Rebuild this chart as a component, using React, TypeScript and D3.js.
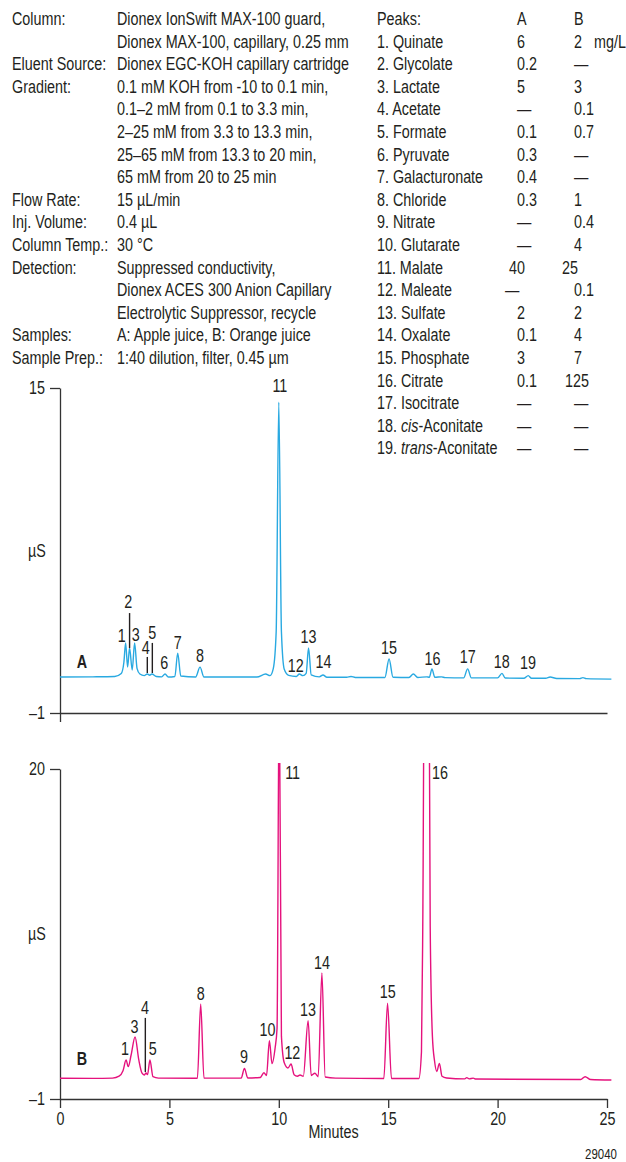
import React, { useRef, useEffect } from 'react';
import * as d3 from 'd3';

// Chromatographic conditions (left text block)
const conditionLabels = [
  'Column:', '', 'Eluent Source:', 'Gradient:', '', '', '', '',
  'Flow Rate:', 'Inj. Volume:', 'Column Temp.:', 'Detection:', '', '',
  'Samples:', 'Sample Prep.:',
];
const conditionValues = [
  'Dionex IonSwift MAX-100 guard,',
  'Dionex MAX-100, capillary, 0.25 mm',
  'Dionex EGC-KOH capillary cartridge',
  '0.1 mM KOH from -10 to 0.1 min,',
  '0.1–2 mM from 0.1 to 3.3 min,',
  '2–25 mM from 3.3 to 13.3 min,',
  '25–65 mM from 13.3 to 20 min,',
  '65 mM from 20 to 25 min',
  '15 µL/min',
  '0.4 µL',
  '30 °C',
  'Suppressed conductivity,',
  'Dionex ACES 300 Anion Capillary',
  'Electrolytic Suppressor, recycle',
  'A: Apple juice, B: Orange juice',
  '1:40 dilution, filter, 0.45 µm',
];

// Peak table (mg/L)
const peakNames = [
  'Quinate', 'Glycolate', 'Lactate', 'Acetate', 'Formate', 'Pyruvate',
  'Galacturonate', 'Chloride', 'Nitrate', 'Glutarate', 'Malate', 'Maleate',
  'Sulfate', 'Oxalate', 'Phosphate', 'Citrate', 'Isocitrate',
  'cis-Aconitate', 'trans-Aconitate',
];
const concA = ['6', '0.2', '5', '—', '0.1', '0.3', '0.4', '0.3', '—', '—', '40', '—', '2', '0.1', '3', '0.1', '—', '—', '—'];
const concB = ['2', '—', '3', '0.1', '0.7', '—', '—', '1', '0.4', '4', '25', '0.1', '2', '4', '7', '125', '—', '—', '—'];

// Trace A, apple juice: retention time (min) and conductivity (µS)
const timeA = [
  0, 1.5, 2.5, 2.8, 2.92, 3.0, 3.09, 3.18, 3.3, 3.41, 3.52, 3.65, 3.85, 3.99, 4.1, 4.2,
  4.4, 4.65, 4.8, 4.95, 5.25, 5.38, 5.52, 6.2, 6.4, 6.58, 9.0, 9.4, 9.6, 9.75, 9.88,
  10.0, 10.12, 10.25, 10.45, 10.8, 10.94, 11.1, 11.25, 11.36, 11.48, 11.85, 12.02,
  12.2, 13.1, 13.3, 13.5, 14.85, 15.04, 15.22, 15.95, 16.15, 16.35, 16.76, 16.88,
  17.0, 17.13, 17.44, 17.6, 18.45, 18.63, 18.8, 20.0, 20.2, 20.35, 21.2, 21.4, 21.55,
  22.2, 22.4, 22.7, 23.75, 23.9, 24.05, 25.2,
];
const signalA = [
  0.77, 0.78, 0.8, 0.95, 1.5, 2.45, 1.26, 2.2, 1.12, 2.45, 1.2, 0.92, 0.84, 0.92, 0.86, 0.92,
  0.8, 0.78, 0.92, 0.77, 0.8, 1.95, 0.82, 0.77, 1.26, 0.77, 0.77, 0.92, 0.84, 1.2, 3.0,
  14.3, 3.0, 1.15, 0.85, 0.8, 0.92, 0.84, 0.95, 2.2, 0.88, 0.78, 0.87,
  0.76, 0.76, 0.8, 0.75, 0.75, 1.66, 0.76, 0.75, 0.92, 0.75, 0.78, 0.76,
  1.17, 0.76, 0.78, 0.74, 0.73, 1.17, 0.73, 0.73, 0.95, 0.72, 0.71, 0.84, 0.71,
  0.71, 0.77, 0.7, 0.69, 0.74, 0.69, 0.67,
];

// Trace B, orange juice
const timeB = [
  0, 1.5, 2.4, 2.7, 2.88, 3.02, 3.12, 3.25, 3.43, 3.6, 3.75, 3.85, 3.93, 4.0, 4.11, 4.25,
  4.5, 6.28, 6.43, 6.58, 8.28, 8.43, 8.58, 9.15, 9.32, 9.44, 9.57, 9.69, 9.83, 9.92,
  10.02, 10.12, 10.25, 10.42, 10.56, 10.7, 10.85, 10.97, 11.12, 11.34, 11.48, 11.65,
  11.8, 11.97, 12.12, 12.6, 14.8, 14.97, 15.15, 16.4, 16.52, 16.58, 16.75, 16.92,
  17.02, 17.12, 17.22, 17.34, 17.46, 17.67, 18.5, 18.59, 18.7, 18.89, 19.0, 23.8,
  24.0, 24.25, 25.2,
];
const signalB = [
  0.32, 0.31, 0.33, 0.45, 0.8, 1.48, 1.06, 1.8, 2.95, 1.5, 0.64, 0.53, 0.65, 0.55, 1.48, 0.42,
  0.33, 0.32, 5.05, 0.33, 0.33, 0.95, 0.34, 0.37, 0.67, 0.5, 2.71, 1.25, 2.23, 3.5,
  26, 3.0, 1.3, 0.97, 1.23, 0.55, 0.45, 0.53, 0.45, 3.98, 0.5, 0.64,
  0.42, 7.02, 0.4, 0.33, 0.3, 5.09, 0.3, 0.3, 2, 10, 60, 10,
  3, 1.4, 0.75, 1.27, 0.45, 0.34, 0.28, 0.36, 0.28, 0.33, 0.27, 0.24,
  0.42, 0.24, 0.21,
];

// Peak numbers: [label, time, signal at text baseline]
const labelsA = [
  ['1', 2.82, 2.51], ['2', 3.12, 4.15], ['3', 3.46, 2.55], ['4', 3.92, 1.9],
  ['5', 4.22, 2.63], ['6', 4.77, 1.15], ['7', 5.38, 2.14], ['8', 6.4, 1.53],
  ['11', 10.05, 14.8], ['12', 10.77, 1.03], ['13', 11.36, 2.43], ['14', 12.04, 1.2],
  ['15', 15.04, 1.9], ['16', 17.02, 1.36], ['17', 18.63, 1.48], ['18', 20.19, 1.23],
  ['19', 21.39, 1.15],
];
const labelsB = [
  ['1', 2.97, 1.8], ['3', 3.41, 3.18], ['4', 3.88, 4.39], ['5', 4.24, 1.8],
  ['8', 6.43, 5.3], ['9', 8.41, 1.31], ['10', 9.48, 3.01], ['11', 10.63, 19.35],
  ['12', 10.62, 1.53], ['13', 11.33, 4.28], ['14', 11.97, 7.28], ['15', 14.98, 5.41],
  ['16', 17.37, 19.35],
];
// Leader lines: [time, top signal, bottom signal]
const leadersA = [[3.18, 3.92, 2.2], [3.99, 1.76, 0.97], [4.22, 2.45, 0.97]];
const leadersB = [[3.9, 4.16, 0.72]];

const xTicks = [0, 5, 10, 15, 20, 25];
const yTicksA = [-1, 15];
const yTicksB = [-1, 20];

// Liberation Sans squeezed horizontally stands in for the condensed face
const FONT = "'Liberation Sans', Arial, sans-serif";
const SQUEEZE = 0.82;
const INK = '#231f20';
const AXIS = '#333';

const Chromatogram = () => {
  const svgRef = useRef(null);

  useEffect(() => {
    document.body.style.margin = '0';
    const svg = d3.select(svgRef.current);
    svg.selectAll('*').remove();

    const fs = 17.5;
    const rowY = (i) => 25 + 22.6 * i;

    // condensed text at (x, y)
    const label = (parent, x, y, txt, anchor = 'start') =>
      parent.append('text')
        .attr('transform', `translate(${x},${y}) scale(${SQUEEZE},1)`)
        .attr('text-anchor', anchor)
        .text(txt);

    const squeezeTicks = (g) => {
      g.selectAll('text').each(function () {
        const t = d3.select(this);
        const tx = +t.attr('x') || 0;
        const ty = +t.attr('y') || 0;
        t.attr('transform', `translate(${tx},${ty}) scale(${SQUEEZE},1)`).attr('x', 0).attr('y', 0);
      });
    };

    // Conditions text
    const cond = svg.append('g').attr('font-family', FONT).attr('font-size', fs).attr('fill', INK);
    conditionLabels.forEach((t, i) => {
      if (t) label(cond, 12, rowY(i), t);
    });
    conditionValues.forEach((t, i) => label(cond, 117, rowY(i), t));

    // Peak table
    const tbl = svg.append('g').attr('font-family', FONT).attr('font-size', fs).attr('fill', INK);
    label(tbl, 377, rowY(0), 'Peaks:');
    label(tbl, 517, rowY(0), 'A');
    label(tbl, 574, rowY(0), 'B');
    const nudge = { Malate: [-8, -12], Maleate: [-12, 0], Citrate: [0, -9] };
    peakNames.forEach((name, i) => {
      const y = rowY(i + 1);
      const m = name.match(/^(cis|trans)(-.*)$/);
      if (m) {
        const t = label(tbl, 377, y, '');
        t.append('tspan').text(`${i + 1}. `);
        t.append('tspan').attr('font-style', 'italic').text(m[1]);
        t.append('tspan').text(m[2]);
      } else {
        label(tbl, 377, y, `${i + 1}. ${name}`);
      }
      const [da, db] = nudge[name] || [0, 0];
      label(tbl, 517 + da, y, concA[i]);
      label(tbl, 574 + db, y, concB[i]);
    });
    label(tbl, 594, rowY(1), 'mg/L');

    const x = d3.scaleLinear().domain([0, 25]).range([60, 607]);
    const yA = d3.scaleLinear().domain([-1, 15]).range([713, 388]);
    const yB = d3.scaleLinear().domain([-1, 20]).range([1099, 769]);

    const styleAxis = (g) => {
      g.attr('font-family', FONT).attr('font-size', fs);
      g.selectAll('path, line').attr('stroke', AXIS).attr('stroke-width', 1.3);
      g.selectAll('text').attr('fill', INK);
      squeezeTicks(g);
    };
    const fmtY = (d) => (d < 0 ? `–${Math.abs(d)}` : `${d}`);

    const drawPanel = (y, ticks, time, signal, color, labels, leaders, tag, tagV, withXTicks, clipId) => {
      const top = y.range()[1];
      const bottom = y.range()[0];

      // Y axis
      svg.append('g')
        .attr('transform', `translate(${x(0)},0)`)
        .call(d3.axisLeft(y).tickValues(ticks).tickSize(10).tickSizeOuter(0).tickPadding(5).tickFormat(fmtY))
        .call(styleAxis);

      // X axis
      svg.append('g')
        .attr('transform', `translate(0,${bottom})`)
        .call(d3.axisBottom(x)
          .tickValues(withXTicks ? xTicks : [0])
          .tickSize(9)
          .tickSizeOuter(0)
          .tickPadding(5)
          .tickFormat(withXTicks ? d3.format('d') : () => ''))
        .call(styleAxis);

      const unit = svg.append('g').attr('font-family', FONT).attr('font-size', fs).attr('fill', INK);
      label(unit, 37, (top + bottom) / 2 + 6, 'µS', 'middle');

      svg.append('clipPath').attr('id', clipId)
        .append('rect').attr('x', 0).attr('y', top - 6).attr('width', 626).attr('height', bottom - top + 6);

      const line = d3.line()
        .x((d) => x(d[0]))
        .y((d) => y(d[1]))
        .curve(d3.curveMonotoneX);

      svg.append('path')
        .datum(d3.zip(time, signal))
        .attr('clip-path', `url(#${clipId})`)
        .attr('fill', 'none')
        .attr('stroke', color)
        .attr('stroke-width', 1.4)
        .attr('stroke-linejoin', 'round')
        .attr('d', line);

      // Peak numbers
      const lg = svg.append('g').attr('font-family', FONT).attr('font-size', fs).attr('fill', INK);
      labels.forEach(([txt, t, v]) => label(lg, x(t), y(v), txt, 'middle'));
      leaders.forEach(([t, v1, v2]) => {
        svg.append('line')
          .attr('x1', x(t)).attr('x2', x(t)).attr('y1', y(v1)).attr('y2', y(v2))
          .attr('stroke', INK).attr('stroke-width', 1.4);
      });

      const tg = svg.append('g').attr('font-family', FONT).attr('font-size', fs)
        .attr('font-weight', 'bold').attr('fill', INK);
      label(tg, x(1), y(tagV), tag, 'middle');
    };

    drawPanel(yA, yTicksA, timeA, signalA, '#29a9e1', labelsA, leadersA, 'A', 1.22, false, 'clipA');
    drawPanel(yB, yTicksB, timeB, signalB, '#e5127d', labelsB, leadersB, 'B', 1.16, true, 'clipB');

    const foot = svg.append('g').attr('font-family', FONT).attr('fill', INK);
    label(foot.attr('font-size', fs), x(12.5), 1138, 'Minutes', 'middle');
    const code = svg.append('g').attr('font-family', FONT).attr('font-size', 14).attr('fill', INK);
    label(code, 617, 1159, '29040', 'end');
  }, []);

  return <svg ref={svgRef} width={626} height={1162} style={{ display: 'block' }} />;
};

export default function App() {
  return <Chromatogram />;
}
